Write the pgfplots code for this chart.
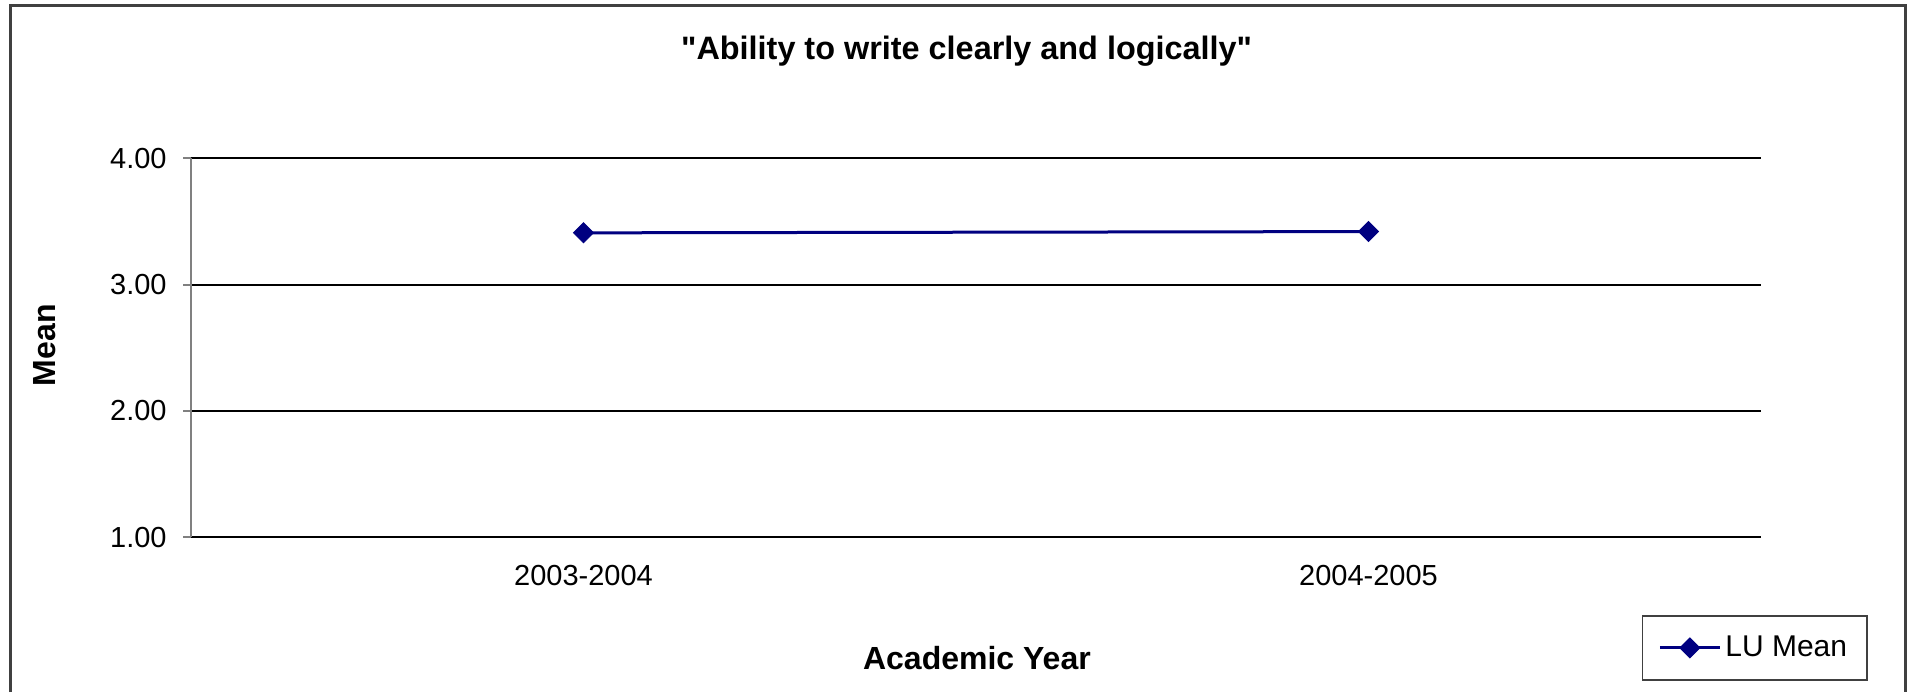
\documentclass[border=0pt]{standalone}
\usepackage{pgfplots}
\pgfplotsset{compat=1.18}
\usepackage{fontspec}
\setmainfont{Liberation Sans}[Ligatures=TeXOff]
\definecolor{navyline}{RGB}{0,0,128}
\definecolor{framegray}{RGB}{64,64,64}
\begin{document}
\begin{tikzpicture}
\useasboundingbox (0,0) rectangle (956.5pt,346pt);
\draw[framegray, line width=1.5pt] (5pt,0pt) -- (5pt,343pt) -- (952.5pt,343pt) -- (952.5pt,0pt);
\begin{axis}[
  scale only axis,
  width=785pt, height=189.5pt,
  at={(95.5pt,77.35pt)}, anchor=south west,
  xmin=-0.5, xmax=1.5,
  ymin=1, ymax=4,
  ytick={1,2,3,4},
  xtick={0,1},
  xticklabels={2003-2004,2004-2005},
  extra x ticks={-0.5,0.5,1.5},
  extra x tick labels={},
  extra x tick style={major tick length=4.5pt, tick style={gray, line width=1pt}},
  axis x line*=bottom,
  axis y line*=left,
  x axis line style={black, line width=1pt, -},
  y axis line style={gray, line width=1pt, -},
  ytick style={gray, line width=1pt},
  xtick style={draw=none},
  tick align=outside,
  major tick length=4pt,
  ymajorgrids,
  major grid style={black, line width=1pt},
  yticklabel style={/pgf/number format/fixed, /pgf/number format/fixed zerofill, /pgf/number format/precision=2, /pgf/number format/assume math mode=true, font=\fontsize{14.5pt}{16pt}\selectfont, inner sep=0pt, xshift=-8pt},
  xticklabel style={font=\fontsize{14.5pt}{16pt}\selectfont, anchor=base, yshift=-20.2pt},
  title={"Ability to write clearly and logically"},
  title style={font=\bfseries\fontsize{16.2pt}{18pt}\selectfont, at={(axis description cs:0.494,1.25)}, anchor=center},
  xlabel={Academic Year},
  xlabel style={font=\bfseries\fontsize{16pt}{18pt}\selectfont, at={(axis description cs:0.5006,-0.318)}, anchor=center},
  ylabel={Mean},
  ylabel style={font=\bfseries\fontsize{16pt}{18pt}\selectfont, at={(axis description cs:-0.093,0.507)}, anchor=center},
  legend style={at={(axis description cs:0.996,-0.292)}, anchor=center, draw=framegray, line width=0.8pt, font=\fontsize{15pt}{17pt}\selectfont, inner xsep=8pt, inner ysep=8pt},
  legend image code/.code={\draw[#1, mark repeat=2, mark phase=2] plot coordinates {(0pt,0pt) (15pt,0pt) (30pt,0pt)};},
]
\addplot[navyline, line width=1.5pt, mark=square*, mark size=3.5pt, mark options={rotate=45, solid, line width=0.5pt}] coordinates {(0,3.41) (1,3.42)};
\addlegendentry{LU Mean}
\end{axis}
\end{tikzpicture}
\end{document}
